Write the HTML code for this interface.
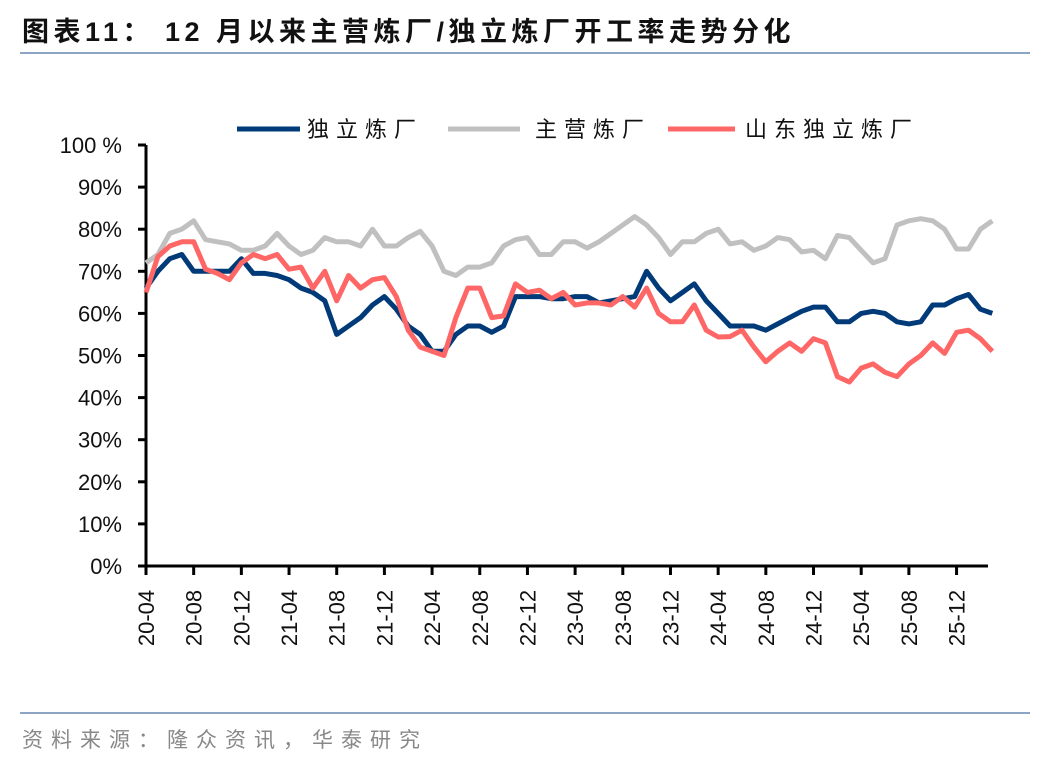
<!DOCTYPE html>
<html><head><meta charset="utf-8"><style>
body{margin:0;background:#fff;width:1048px;height:764px;overflow:hidden;font-family:"Liberation Sans","Noto Sans CJK SC",sans-serif}
</style></head><body>
<svg width="1048" height="764" style="position:absolute;left:0;top:0">
<text x="22" y="41" font-size="27" font-weight="bold" fill="#111" letter-spacing="4.5" font-family="Liberation Sans,Noto Sans CJK SC,sans-serif"><tspan>图表11：</tspan><tspan x="165">12 月以来主营炼厂/独立炼厂开工率走势分化</tspan></text>
<line x1="20" y1="53" x2="1030" y2="53" stroke="#8ea4c4" stroke-width="2"/>
<line x1="20" y1="713" x2="1030" y2="713" stroke="#8ea4c4" stroke-width="2"/>
<text x="22" y="747" font-size="21" fill="#888" letter-spacing="8" font-family="Liberation Sans,Noto Sans CJK SC,sans-serif">资料来源：隆众资讯，华泰研究</text>
<g>
<line x1="237" y1="129" x2="300" y2="129" stroke="#003a78" stroke-width="5"/>
<text x="307" y="137" font-size="22" fill="#111" letter-spacing="7" font-family="Liberation Sans,Noto Sans CJK SC,sans-serif">独立炼厂</text>
<line x1="448" y1="129" x2="520" y2="129" stroke="#c0c0c0" stroke-width="5"/>
<text x="535" y="137" font-size="22" fill="#111" letter-spacing="7" font-family="Liberation Sans,Noto Sans CJK SC,sans-serif">主营炼厂</text>
<line x1="668" y1="129" x2="735" y2="129" stroke="#ff6666" stroke-width="5"/>
<text x="745" y="137" font-size="22" fill="#111" letter-spacing="7" font-family="Liberation Sans,Noto Sans CJK SC,sans-serif">山东独立炼厂</text>
</g>
<g id="axes"></g>
<g id="series"></g>
</svg>
<script>
const xTickLabels=["20-04","20-08","20-12","21-04","21-08","21-12","22-04","22-08","22-12","23-04","23-08","23-12","24-04","24-08","24-12","25-04","25-08","25-12"];
const yTicks=[0,10,20,30,40,50,60,70,80,90,100];
const independent=[66,70,73,74,70,70,70,70,73,69.5,69.5,69,68,66,65,63,55,57,59,62,64,61,57,55,51,51,55,57,57,55.5,57,64,64,64,63.5,63.5,64,64,62.5,63,63.5,64,70,66,63,65,67,63,60,57,57,57,56,57.5,59,60.5,61.5,61.5,58,58,60,60.5,60,58,57.5,58,62,62,63.5,64.5,61,60];
const major=[72,74,79,80,82,77.5,77,76.5,75,75,76,79,76,74,75,78,77,77,76,80,76,76,78,79.5,76,70,69,71,71,72,76,77.5,78,74,74,77,77,75.5,77,79,81,83,81,78,74,77,77,79,80,76.5,77,75,76,78,77.5,74.6,75,73,78.5,78,75,72,73,81,82,82.5,82,80,75.3,75.3,80,82];
const shandong=[65,73.5,76,77,77,70.5,69.5,68,72,74,73,74,70.5,71,66,70,63,69,66,68,68.5,64,56,52,51,50,59,66,66,59,59.4,67,65,65.5,63.5,65,62,62.5,62.5,62,64,61.5,66,60,58,58,62,56,54.4,54.5,56,52,48.5,51,53,51,54,53,45,43.7,47,48,46,45,48,50,53,50.5,55.5,56,54,51];
const NS="http://www.w3.org/2000/svg";
const X0=146,PX=11.92,Y0=566,YT=145;
function xs(m){return X0+m*PX;}
function ys(v){return Y0-(Y0-YT)*v/100;}
const axes=document.getElementById('axes');
function mk(tag,attrs,parent){const e=document.createElementNS(NS,tag);for(const k in attrs)e.setAttribute(k,attrs[k]);parent.appendChild(e);return e;}
yTicks.forEach(v=>{
  const t=mk('line',{x1:X0-8,x2:X0,y1:ys(v),y2:ys(v),stroke:'#000','stroke-width':3},axes);
  
  
  const l=mk('text',{x:122,y:ys(v)+8,'font-size':22,'text-anchor':'end',fill:'#111'},axes);
  l.textContent=v===100?'100 %':v+'%';
  
  
});
xTickLabels.forEach((s,i)=>{
  const x=xs(i*4);
  const t=mk('line',{x1:x,x2:x,y1:Y0,y2:Y0+9,stroke:'#000','stroke-width':3},axes);
  
  
  const l=mk('text',{x:0,y:0,'font-size':22,'text-anchor':'middle',fill:'#111',transform:`translate(${x+8},618) rotate(-90)`},axes);
  l.textContent=s;
  
  
});
const ya=mk('line',{x1:X0,x2:X0,y1:YT,y2:Y0+1.5,stroke:'#000','stroke-width':3},axes);


const xa=mk('line',{x1:X0-8,x2:988,y1:Y0,y2:Y0,stroke:'#000','stroke-width':3},axes);


const sg=document.getElementById('series');
function line(arr,color,name){
  const d=arr.map((v,i)=>(i?'L':'M')+xs(i).toFixed(1)+','+ys(v).toFixed(1)).join('');
  const p=mk('path',{d:d,fill:'none',stroke:color,'stroke-width':5,'stroke-linejoin':'round'},sg);
  
  
}
line(major,'#c0c0c0','series-major-refineries');
line(independent,'#003a78','series-independent-refineries');
line(shandong,'#ff6666','series-shandong-independent');
</script>
</body></html>
